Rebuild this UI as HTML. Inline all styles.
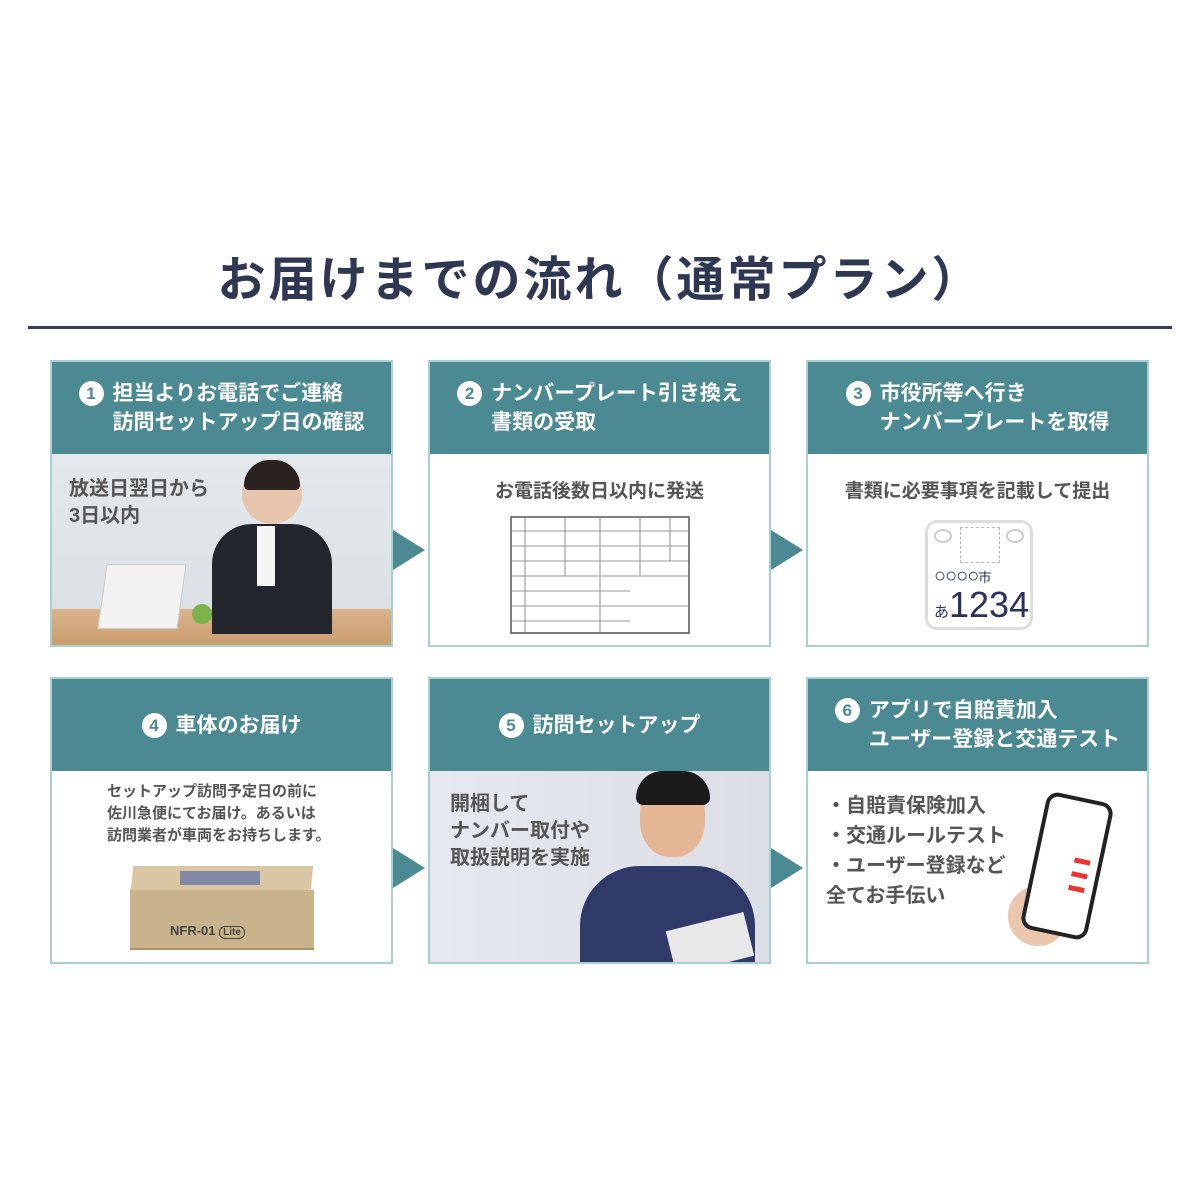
<!DOCTYPE html>
<html><head><meta charset="utf-8"><style>
*{margin:0;padding:0;box-sizing:border-box}
body{width:1200px;height:1200px;background:#fff;position:relative;overflow:hidden;font-family:"Liberation Sans","Noto Sans CJK JP",sans-serif}
.title{position:absolute;top:240px;left:0;width:1200px;text-align:center;font-size:48px;font-weight:bold;color:#2f3752;letter-spacing:3px}
.rule{position:absolute;top:326px;left:28px;width:1144px;height:3px;background:#3a405a}
.card{position:absolute;width:343px;height:287px;border:2px solid #a9cfd3;background:#fff;overflow:hidden}
.hd{position:absolute;left:0;top:0;width:100%;height:92px;background:#4b8a92;color:#fff;font-size:21px;font-weight:bold;line-height:29px;display:flex;align-items:center;justify-content:center}
.hd .in{position:relative;padding-left:34px}
.num{position:absolute;left:0;top:2px;width:25px;height:25px;border-radius:50%;background:#fff;color:#4b8a92;font-size:17px;line-height:25px;text-align:center;font-weight:bold}
.bd{position:absolute;left:0;top:92px;width:100%;height:195px}
.arr{position:absolute;width:0;height:0;border-top:20px solid transparent;border-bottom:20px solid transparent;border-left:32px solid #4b8a92}
.t{position:absolute;color:#555;font-weight:bold}
</style></head><body>
<div class="title">お届けまでの流れ（通常プラン）</div>
<div class="rule"></div>

<div class="card" style="left:50px;top:360px">
 <div class="hd"><div class="in"><span class="num">1</span>担当よりお電話でご連絡<br>訪問セットアップ日の確認</div></div>
 <div class="bd" style="background:linear-gradient(#e3e8ec,#d9dfe3)">
  <div style="position:absolute;left:0;bottom:0;width:100%;height:40px;background:linear-gradient(#d9b48a,#c89a6c)"></div>
  <div style="position:absolute;left:50px;top:110px;width:80px;height:65px;background:#f2f2f2;border:1px solid #ccc;transform:skewX(-8deg)"></div>
  <div style="position:absolute;left:190px;top:10px;width:60px;height:60px;border-radius:50%;background:#e8c6ad"></div>
  <div style="position:absolute;left:192px;top:6px;width:56px;height:30px;border-radius:28px 28px 5px 5px;background:#2a2220"></div>
  <div style="position:absolute;left:160px;top:70px;width:120px;height:110px;border-radius:40px 40px 0 0;background:#22252b"></div>
  <div style="position:absolute;left:205px;top:72px;width:18px;height:60px;background:#f5f5f5"></div>
  <div style="position:absolute;left:140px;top:150px;width:20px;height:20px;border-radius:50%;background:#7cb24a"></div>
  <div class="t" style="left:17px;top:22px;font-size:20px;line-height:27px;color:#555">放送日翌日から<br>3日以内</div>
 </div>
</div>
<div class="arr" style="left:393px;top:530px"></div>

<div class="card" style="left:428px;top:360px">
 <div class="hd"><div class="in"><span class="num">2</span>ナンバープレート引き換え<br>書類の受取</div></div>
 <div class="bd">
  <div class="t" style="left:0;width:100%;text-align:center;top:22px;font-size:19px">お電話後数日以内に発送</div>
  <svg style="position:absolute;left:80px;top:62px" width="180" height="118" viewBox="0 0 180 118">
   <rect x="1" y="1" width="178" height="116" fill="#fff" stroke="#555" stroke-width="1.5"/>
   <g stroke="#777" stroke-width="0.8">
   <line x1="0" y1="15" x2="180" y2="15"/><line x1="0" y1="30" x2="180" y2="30"/><line x1="0" y1="45" x2="180" y2="45"/><line x1="0" y1="60" x2="180" y2="60"/><line x1="0" y1="75" x2="120" y2="75"/><line x1="0" y1="90" x2="180" y2="90"/><line x1="0" y1="105" x2="120" y2="105"/>
   <line x1="15" y1="0" x2="15" y2="118"/><line x1="55" y1="0" x2="55" y2="60"/><line x1="90" y1="0" x2="90" y2="118"/><line x1="130" y1="0" x2="130" y2="60"/><line x1="160" y1="0" x2="160" y2="45"/>
   </g>
  </svg>
 </div>
</div>
<div class="arr" style="left:771px;top:530px"></div>

<div class="card" style="left:806px;top:360px">
 <div class="hd"><div class="in"><span class="num">3</span>市役所等へ行き<br>ナンバープレートを取得</div></div>
 <div class="bd">
  <div class="t" style="left:0;width:100%;text-align:center;top:22px;font-size:19px">書類に必要事項を記載して提出</div>
  <div style="position:absolute;left:117px;top:66px;width:108px;height:110px;border:3px solid #ddd;border-radius:12px;background:#fff">
   <div style="position:absolute;left:6px;top:6px;width:18px;height:14px;border:2px solid #ccc;border-radius:50%"></div>
   <div style="position:absolute;right:6px;top:6px;width:18px;height:14px;border:2px solid #ccc;border-radius:50%"></div>
   <div style="position:absolute;left:32px;top:4px;width:40px;height:36px;border:1px dashed #bbb"></div>
   <div style="position:absolute;left:6px;top:42px;font-size:20px;color:#2a3060;letter-spacing:-1px">○○○○<span style="font-size:13px">市</span></div>
   <div style="position:absolute;left:6px;top:62px;font-size:36px;color:#2a3060;line-height:40px"><span style="font-size:15px">あ</span>1234</div>
  </div>
 </div>
</div>

<div class="card" style="left:50px;top:677px">
 <div class="hd"><div class="in"><span class="num">4</span>車体のお届け</div></div>
 <div class="bd">
  <div class="t" style="left:55px;top:10px;font-size:15px;line-height:22px;color:#555">セットアップ訪問予定日の前に<br>佐川急便にてお届け。あるいは<br>訪問業者が車両をお持ちします。</div>
  <div style="position:absolute;left:80px;top:95px;width:180px;height:24px;background:#d9c7a3;transform:skewX(-6deg)"></div>
  <div style="position:absolute;left:128px;top:100px;width:80px;height:14px;background:#5c6fa5;opacity:.7"></div>
  <div style="position:absolute;left:78px;top:119px;width:184px;height:60px;background:#c8b38c;border-bottom:2px solid #a99269"></div>
  <div style="position:absolute;left:118px;top:152px;font-size:13px;font-weight:bold;color:#444">NFR-01 <span style="border:1px solid #444;border-radius:6px;padding:0 3px;font-size:10px">Lite</span></div>
 </div>
</div>
<div class="arr" style="left:393px;top:848px"></div>

<div class="card" style="left:428px;top:677px">
 <div class="hd"><div class="in"><span class="num">5</span>訪問セットアップ</div></div>
 <div class="bd" style="background:linear-gradient(90deg,#e6e8f0,#dcdee6)">
  <div style="position:absolute;left:150px;top:95px;width:175px;height:110px;border-radius:60px 60px 0 0;background:#2f3a68"></div>
  <div style="position:absolute;left:210px;top:6px;width:65px;height:80px;border-radius:45%;background:#e4b696"></div>
  <div style="position:absolute;left:206px;top:0;width:74px;height:34px;border-radius:30px 30px 8px 8px;background:#1b1b1e"></div>
  <div style="position:absolute;left:240px;top:150px;width:80px;height:45px;background:#e8e8e8;transform:rotate(-14deg)"></div>
  <div class="t" style="left:20px;top:20px;font-size:20px;line-height:27px;color:#555">開梱して<br>ナンバー取付や<br>取扱説明を実施</div>
 </div>
</div>
<div class="arr" style="left:771px;top:848px"></div>

<div class="card" style="left:806px;top:677px">
 <div class="hd"><div class="in"><span class="num">6</span>アプリで自賠責加入<br>ユーザー登録と交通テスト</div></div>
 <div class="bd">
  <div class="t" style="left:18px;top:20px;font-size:20px;line-height:30px;color:#555">・自賠責保険加入<br>・交通ルールテスト<br>・ユーザー登録など<br>全てお手伝い</div>
  <div style="position:absolute;left:200px;top:115px;width:60px;height:60px;border-radius:30px;background:#ebc7ad"></div>
  <div style="position:absolute;left:225px;top:25px;width:68px;height:140px;border:4px solid #222;border-radius:12px;background:#fff;transform:rotate(12deg)">
   <div style="position:absolute;left:36px;top:56px;width:16px;height:5px;background:#e33"></div>
   <div style="position:absolute;left:36px;top:70px;width:16px;height:5px;background:#e33"></div>
   <div style="position:absolute;left:36px;top:84px;width:16px;height:5px;background:#e33"></div>
  </div>
 </div>
</div>
</body></html>
